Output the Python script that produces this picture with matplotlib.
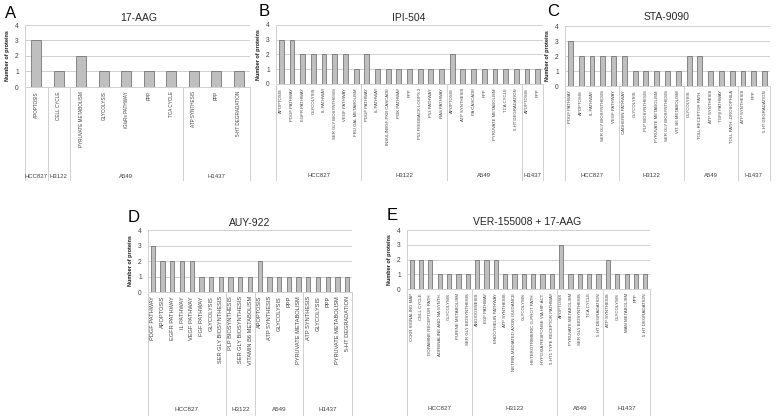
### Import ####

import numpy as np
import matplotlib
matplotlib.use('Agg')
import matplotlib.pyplot as plt
from matplotlib.transforms import blended_transform_factory, ScaledTranslation

plt.rcParams['font.family'] = ['Liberation Sans', 'DejaVu Sans']

### Data ###

cell_lines = ['HCC827', 'H3122', 'A549', 'H1437']

# A : 17-AAG
a_sizes = [1, 1, 5, 3]
a_labels = ['APOPTOSIS',
            'CELL CYCLE',
            'PYRUVATE METABOLISM', 'GLYCOLYSIS', 'iGluRs PATHWAY', 'PPP', 'TCA CYCLE',
            'ATP SYNTHESIS', 'PPP', '5-HT DEGRADATION']
a_values = [3,
            1,
            2, 1, 1, 1, 1,
            1, 1, 1]

# B : IPI-504
b_sizes = [8, 8, 7, 2]
b_labels = ['APOPTOSIS', 'PDGF PATHWAY', 'EGFR PATHWAY', 'GLYCOLYSIS', 'IL PATHWAY',
            'SER GLY BIOSYNTHESIS', 'VEGF PATHWAY', 'FRU GAL METABOLISM',
            'PDGF PATHWAY', 'IL PATHWAY', 'INSULIN/IGF-PKB CASCADE', 'PI3K PATHWAY', 'PPP',
            'P53 FEEDBACK LOOPS 2', 'P53 PATHWAY', 'RAS PATHWAY',
            'APOPTOSIS', 'ATP SYNTHESIS', 'PA CASCADE', 'PPP', 'PYRUVATE METABOLISM',
            'TCA CYCLE', '5-HT DEGRADATION',
            'APOPTOSIS', 'PPP']
b_values = [3, 3, 2, 2, 2, 2, 2, 1,
            2, 1, 1, 1, 1, 1, 1, 1,
            2, 1, 1, 1, 1, 1, 1,
            1, 1]

# C : STA-9090
c_sizes = [5, 6, 5, 3]
c_labels = ['PDGF PATHWAY', 'APOPTOSIS', 'IL PATHWAY', 'SER GLY BIOSYNTHESIS', 'VEGF PATHWAY',
            'CADHERIN PATHWAY', 'GLYCOLYSIS', 'PLP BIOSYNTHESIS', 'PYRUVATE METABOLISM',
            'SER GLY BIOSYNTHESIS', 'VIT. B6 METABOLISM',
            'GLYCOLYSIS', 'TOLL RECEPTOR PATH.', 'ATP SYNTHESIS', 'TGF\u03b2 PATHWAY',
            'TOLL PATH.-DROSOPHILA',
            'ATP SYNTHESIS', 'PPP', '5-HT DEGRADATION']
c_values = [3, 2, 2, 2, 2,
            2, 1, 1, 1, 1, 1,
            2, 2, 1, 1, 1,
            1, 1, 1]

# D : AUY-922
d_sizes = [8, 3, 5, 5]
d_labels = ['PDGF PATHWAY', 'APOPTOSIS', 'EGFR PATHWAY', 'IL PATHWAY', 'VEGF PATHWAY',
            'FGF PATHWAY', 'GLYCOLYSIS', 'SER GLY BIOSYNTHESIS',
            'PLP BIOSYNTHESIS', 'SER GLY BIOSYNTHESIS', 'VITAMIN B6 METABOLISM',
            'APOPTOSIS', 'ATP SYNTHESIS', 'GLYCOLYSIS', 'PPP', 'PYRUVATE METABOLISM',
            'ATP SYNTHESIS', 'GLYCOLYSIS', 'PPP', 'PYRUVATE METABOLISM', '5-HT DEGRADATION']
d_values = [3, 2, 2, 2, 2, 1, 1, 1,
            1, 1, 1,
            2, 1, 1, 1, 1,
            1, 1, 1, 1, 1]

# E : VER-155008 + 17-AAG
e_sizes = [7, 9, 5, 5]
e_labels = ['CCKR SIGNALING MAP', 'CELL CYCLE', 'DOPAMINE RECEPTOR PATH.',
            'ADRENALINE AND NA SYNTH.', 'GLYCOLYSIS', 'PURINE METABOLISM',
            'SER GLY BIOSYNTHESIS',
            'ANGIOGENESIS', 'EGF PATHWAY', 'ENDOTHELIN PATHWAY', 'ATP SYNTHESIS',
            'NETRIN-MEDIATED AXON GUIDANCE', 'GLYCOLYSIS', 'HETEROTRIMERIC G-PROT PATH.',
            'HYPOXIA RESPONSE VIA HIF ACT.', '5-HT1 TYPE RECEPTOR PATHWAY',
            'APOPTOSIS', 'PYRUVATE METABOLISM', 'SER GLY BIOSYNTHESIS', 'TCA CYCLE',
            '5-HT DEGRADATION',
            'ATP SYNTHESIS', 'GLYCOLYSIS', 'MAN METABOLISM', 'PPP', '5-HT DEGRADATION']
e_values = [2, 2, 2, 1, 1, 1, 1,
            2, 2, 2, 1, 1, 1, 1, 1, 1,
            3, 1, 1, 1, 1,
            2, 1, 1, 1, 1]

### Figure ###

W, H = 778, 419
fig = plt.figure(figsize=(W / 100, H / 100), dpi=100)

GRID = '#D0D0D0'
TXT = '#404040'


def draw_panel(box, letter, letter_xy, title, title_xy, labels, values, sizes,
               lab_fs, grp_fs, grp_y, sep_bottom):
    """Excel-like bar chart with a two level category axis, box in pixels"""
    left, top, right, bottom = box
    axw, axh = right - left, bottom - top
    ax = fig.add_axes([left / W, 1 - bottom / H, axw / W, axh / H])
    n = len(labels)
    x = np.arange(n)
    ax.bar(x, values, width=0.45, color='#BFBFBF', edgecolor='#6E6E6E',
           linewidth=0.55, zorder=3)
    ax.set_xlim(-0.5, n - 0.5)
    ax.set_ylim(0, 4)
    ax.set_yticks(range(5))
    ax.set_xticks([])
    ax.yaxis.grid(True, color=GRID, linewidth=0.7, zorder=0)
    ax.set_axisbelow(True)
    for s in ['top', 'right']:
        ax.spines[s].set_visible(False)
    for s in ['left', 'bottom']:
        ax.spines[s].set_color(GRID)
        ax.spines[s].set_linewidth(0.7)
    ax.tick_params(axis='y', length=0, labelsize=4.8, pad=4.5, labelcolor=TXT)
    ax.set_ylabel('Number of proteins', fontsize=4, fontweight='bold', color='#1a1a1a')
    ax.yaxis.set_label_coords(-15 / axw, 0.5)

    trans = blended_transform_factory(ax.transData, ax.transAxes)
    lab_trans = trans + ScaledTranslation(0, -4 / 100, fig.dpi_scale_trans)
    for i, lab in enumerate(labels):
        ax.text(i, 0, lab, transform=lab_trans, rotation=90, ha='center', va='top',
                fontsize=lab_fs, color=TXT)

    # group separators and cell line names
    bounds = np.concatenate([[0], np.cumsum(sizes)])
    y_end = -(sep_bottom - bottom) / axh
    for b in bounds:
        ax.plot([b - 0.5, b - 0.5], [0, y_end], transform=trans, color=GRID,
                linewidth=0.7, clip_on=False)
    y_grp = -(grp_y - bottom) / axh
    for k, name in enumerate(cell_lines):
        mid = (bounds[k] + bounds[k + 1]) / 2 - 0.5
        ax.text(mid, y_grp, name, transform=trans, ha='center', va='center',
                fontsize=grp_fs, color=TXT)

    fig.text(title_xy[0] / W, 1 - title_xy[1] / H, title, ha='center', va='center',
             fontsize=7.5, color='#262626')
    fig.text(letter_xy[0] / W, 1 - letter_xy[1] / H, letter, ha='center', va='center',
             fontsize=12, color='black')
    return ax


draw_panel((25, 25, 250, 87), 'A', (11, 13), '17-AAG', (139, 18),
           a_labels, a_values, a_sizes, 3.3, 4.3, 176, 180)
draw_panel((276, 25, 543, 84), 'B', (264, 12), 'IPI-504', (409, 18),
           b_labels, b_values, b_sizes, 3.1, 4.3, 175, 180)
draw_panel((565, 26, 770, 86), 'C', (553, 12), 'STA-9090', (667, 17),
           c_labels, c_values, c_sizes, 3.1, 4.3, 175, 180)
draw_panel((148, 230, 352, 292), 'D', (134, 217), 'AUY-922', (250, 223),
           d_labels, d_values, d_sizes, 4.1, 4.5, 409, 415)
draw_panel((407, 230, 650, 289), 'E', (392, 215), 'VER-155008 + 17-AAG', (527, 222),
           e_labels, e_values, e_sizes, 3.2, 4.5, 408, 415)

fig.savefig('out.png', dpi=100)
